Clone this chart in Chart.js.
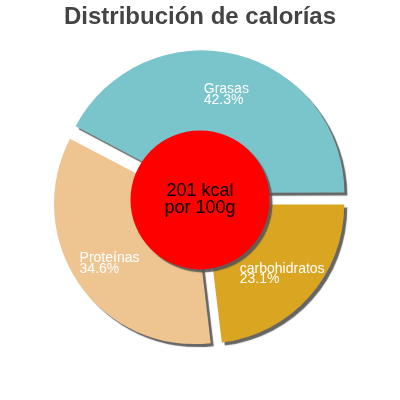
<!DOCTYPE html>
<html>
<head>
<meta charset="utf-8">
<script src="https://cdn.jsdelivr.net/npm/chart.js@4.4.1/dist/chart.umd.min.js"></script>
<style>
  html, body { margin: 0; padding: 0; background: #fff; }
  canvas { display: block; }
</style>
</head>
<body>
<canvas id="caloriesChart" width="400" height="400"></canvas>
<script>
// Data
const labels = ['Grasas', 'carbohidratos', 'Proteínas'];
const percents = [42.3, 23.1, 34.6];
const sliceColors = ['#7ac4cc', '#daa520', '#eec591'];
const centerLines = ['201 kcal', 'por 100g'];

const fontFamily = "'Liberation Sans', Arial, sans-serif";

// Chart.js moves an arc by offset / 4 pixels
const sliceOffset = 28;

// shadow behind the slices
const shadowPlugin = {
    id: 'sliceShadow',
    beforeDatasetsDraw(chart) {
        const ctx = chart.ctx;
        ctx.save();
        ctx.shadowColor = 'rgba(85,85,85,0.9)';
        ctx.shadowOffsetX = 3;
        ctx.shadowOffsetY = 3;
        ctx.shadowBlur = 1;
    },
    afterDatasetsDraw(chart) {
        chart.ctx.restore();
    }
};

// red disc, kcal text and slice labels
const overlayPlugin = {
    id: 'overlay',
    afterDatasetsDraw(chart) {
        const ctx = chart.ctx;
        const arcs = chart.getDatasetMeta(0).data;
        const values = chart.data.datasets[0].data;
        const total = values.reduce((a, b) => a + b, 0);
        const cx = arcs[0].x;
        const cy = arcs[0].y;
        const outer = arcs[0].outerRadius;

        // centre disc
        ctx.save();
        ctx.shadowColor = 'rgba(85,85,85,0.9)';
        ctx.shadowOffsetX = 3;
        ctx.shadowOffsetY = 3;
        ctx.shadowBlur = 1;
        ctx.beginPath();
        ctx.arc(cx, cy, outer * 0.5, 0, Math.PI * 2);
        ctx.fillStyle = '#ff0000';
        ctx.fill();
        ctx.restore();

        ctx.save();
        ctx.fillStyle = '#000';
        ctx.font = '18px ' + fontFamily;
        ctx.textAlign = 'center';
        ctx.textBaseline = 'alphabetic';
        ctx.fillText(centerLines[0], cx, cy - 4);
        ctx.fillText(centerLines[1], cx, cy + 13);
        ctx.restore();

        // slice labels
        ctx.save();
        ctx.fillStyle = '#fff';
        ctx.font = '14px ' + fontFamily;
        ctx.textAlign = 'left';
        ctx.textBaseline = 'alphabetic';
        arcs.forEach((arc, i) => {
            const mid = (arc.startAngle + arc.endAngle) / 2;
            const r = arc.outerRadius * 0.74 + (arc.options.offset || 0) / 4;
            const px = arc.x + Math.cos(mid) * r;
            const py = arc.y + Math.sin(mid) * r;
            const line1 = chart.data.labels[i];
            const line2 = (values[i] / total * 100).toFixed(1) + '%';
            const w = Math.max(ctx.measureText(line1).width, ctx.measureText(line2).width);
            const left = px - w / 2;
            ctx.fillText(line1, left, py);
            ctx.fillText(line2, left, py + 10.6);
        });
        ctx.restore();
    }
};

const ctx = document.getElementById('caloriesChart').getContext('2d');
new Chart(ctx, {
    type: 'pie',
    data: {
        labels: labels,
        datasets: [{
            data: percents,
            backgroundColor: sliceColors,
            borderWidth: 0,
            offset: sliceOffset,
            hoverOffset: 0,
            radius: 139
        }]
    },
    options: {
        responsive: false,
        animation: false,
        devicePixelRatio: 1,
        rotation: 90 - percents[0] * 3.6,
        layout: {
            padding: { top: 0, bottom: 32, left: 0, right: 0 }
        },
        plugins: {
            legend: { display: false },
            tooltip: { enabled: false },
            title: {
                display: true,
                text: 'Distribución de calorías',
                color: '#444',
                font: { family: fontFamily, size: 24, weight: 'bold', lineHeight: 1.2 },
                padding: { top: 3, bottom: 0 }
            }
        }
    },
    plugins: [shadowPlugin, overlayPlugin]
});
</script>
</body>
</html>
